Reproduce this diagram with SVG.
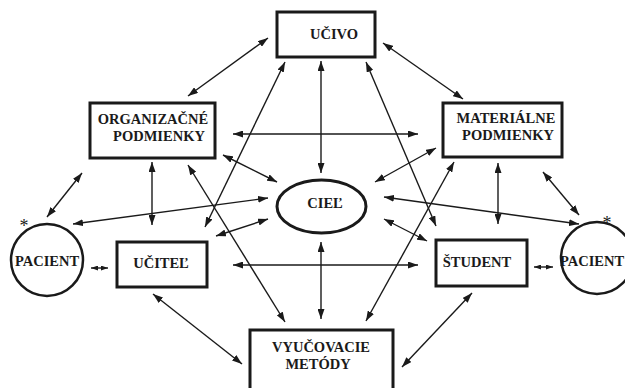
<svg xmlns="http://www.w3.org/2000/svg" width="625" height="388" viewBox="0 0 625 388">
<defs>
<marker id="ah" viewBox="0 0 10 7" refX="10" refY="3.5" markerWidth="10" markerHeight="7" markerUnits="userSpaceOnUse" orient="auto-start-reverse">
<path d="M0,0 L10,3.5 L0,7 z" fill="#1a1a1a"/>
</marker>
<marker id="ahs" viewBox="0 0 10 7" refX="10" refY="3.5" markerWidth="7" markerHeight="5" markerUnits="userSpaceOnUse" orient="auto-start-reverse">
<path d="M0,0 L10,3.5 L0,7 z" fill="#1a1a1a"/>
</marker>
</defs>
<style>
.box{fill:#fff;stroke:#1a1a1a;stroke-width:3}
.ell{fill:#fff;stroke:#1a1a1a;stroke-width:3}
.cir{fill:#fff;stroke:#1a1a1a;stroke-width:2.5}
.t{font-family:"Liberation Serif","Times New Roman",serif;font-weight:bold;font-size:14.5px;fill:#1a1a1a;text-anchor:middle}
.star{font-family:"Liberation Serif",serif;font-size:18px;fill:#1a1a1a;text-anchor:middle}
.c line{stroke:#1a1a1a;stroke-width:1.4;marker-start:url(#ah);marker-end:url(#ah)}
.c line.s{marker-start:url(#ahs);marker-end:url(#ahs)}
</style>
<rect width="625" height="388" fill="#fff"/>
<g class="c" id="connectors">
<line x1="188" y1="96" x2="268" y2="38"/>
<line x1="383" y1="43" x2="463" y2="99"/>
<line x1="321" y1="61" x2="321" y2="173"/>
<line x1="285" y1="62" x2="205" y2="227"/>
<line x1="366" y1="62" x2="436" y2="226"/>
<line x1="233" y1="134" x2="418" y2="134"/>
<line x1="223" y1="155" x2="277" y2="182"/>
<line x1="375" y1="182" x2="436" y2="148"/>
<line x1="188" y1="165" x2="285" y2="322"/>
<line x1="454" y1="162" x2="366" y2="321"/>
<line x1="152" y1="162" x2="152" y2="225"/>
<line x1="498" y1="163" x2="498" y2="224"/>
<line x1="82" y1="173" x2="47" y2="217"/>
<line x1="543" y1="172" x2="579" y2="215"/>
<line x1="73" y1="224" x2="268" y2="198"/>
<line x1="384" y1="197" x2="579" y2="224"/>
<line x1="216" y1="236" x2="268" y2="219"/>
<line x1="384" y1="219" x2="427" y2="241"/>
<line x1="233" y1="265" x2="418" y2="265"/>
<line x1="321" y1="242" x2="321" y2="319"/>
<line x1="153" y1="294" x2="242" y2="364"/>
<line x1="472" y1="293" x2="402" y2="367"/>
<line class="s" x1="91" y1="268" x2="108" y2="268"/>
<line class="s" x1="534" y1="267" x2="553" y2="267"/>
</g>
<g id="ucivo">
<rect class="box" x="277" y="12" width="98" height="45"/>
<text class="t" x="334" y="39">UČIVO</text>
</g>
<g id="organizacne">
<rect class="box" x="90" y="103" width="125" height="55"/>
<text class="t" x="153" y="124">ORGANIZAČNÉ</text>
<text class="t" x="159" y="141">PODMIENKY</text>
</g>
<g id="materialne">
<rect class="box" x="443" y="103" width="119" height="54"/>
<text class="t" x="506" y="123">MATERIÁLNE</text>
<text class="t" x="508" y="140">PODMIENKY</text>
</g>
<g id="ciel">
<ellipse class="ell" cx="321.5" cy="206.5" rx="44.5" ry="26.5"/>
<text class="t" x="325" y="208">CIEĽ</text>
</g>
<g id="ucitel">
<rect class="box" x="117" y="242" width="90" height="45"/>
<text class="t" x="161" y="268">UČITEĽ</text>
</g>
<g id="student">
<rect class="box" x="436" y="240" width="91" height="46"/>
<text class="t" x="477" y="267">ŠTUDENT</text>
</g>
<g id="pacient-left">
<circle class="cir" cx="47" cy="260" r="36"/>
<text class="t" x="47" y="266">PACIENT</text>
<text class="star" x="24" y="232">*</text>
</g>
<g id="pacient-right">
<circle class="cir" cx="597" cy="258" r="36"/>
<text class="t" x="592" y="266">PACIENT</text>
<text class="star" x="607" y="229">*</text>
</g>
<g id="vyucovacie">
<rect class="box" x="250" y="330" width="143" height="70"/>
<text class="t" x="321" y="352">VYUČOVACIE</text>
<text class="t" x="318" y="369">METÓDY</text>
</g>
</svg>
